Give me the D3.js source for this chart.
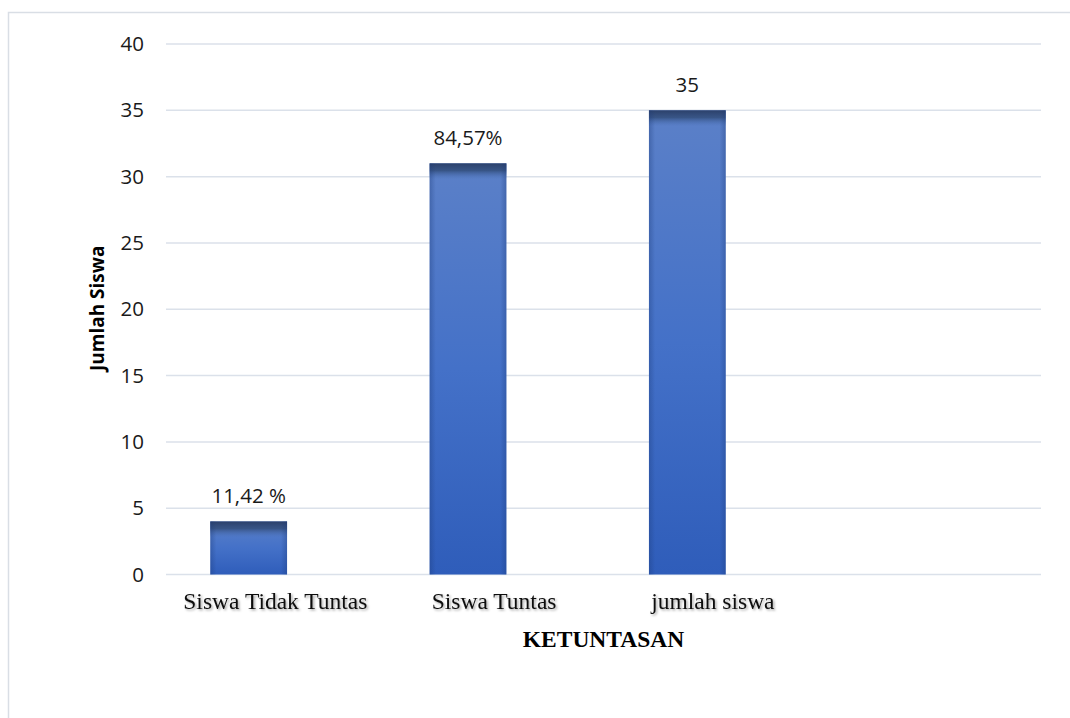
<!DOCTYPE html>
<html>
<head>
<meta charset="utf-8">
<script src="https://cdn.jsdelivr.net/npm/d3@7"></script>
<style>
  html, body { margin: 0; padding: 0; background: #fff; }
  svg { display: block; }
</style>
</head>
<body>
<div id="chart"></div>
<script>
// chart data
const categories = ["Siswa Tidak Tuntas", "Siswa Tuntas", "jumlah siswa"];
const values = [4, 31, 35];
const valueLabels = ["11,42 %", "84,57%", "35"];
const yTicks = [0, 5, 10, 15, 20, 25, 30, 35, 40];
const yTitle = "Jumlah Siswa";
const xTitle = "KETUNTASAN";

const width = 1070, height = 718;

const svg = d3.select("#chart").append("svg")
    .attr("width", width)
    .attr("height", height);

const defs = svg.append("defs");

// main fill of the bars
const g1 = defs.append("linearGradient")
    .attr("id", "barFill")
    .attr("x1", 0).attr("y1", 0).attr("x2", 0).attr("y2", 1);
g1.append("stop").attr("offset", "0%").attr("stop-color", "#5b80c8");
g1.append("stop").attr("offset", "50%").attr("stop-color", "#4471c8");
g1.append("stop").attr("offset", "100%").attr("stop-color", "#2f5dba");

// dark cap on top of each bar
const g2 = defs.append("linearGradient")
    .attr("id", "barCap")
    .attr("x1", 0).attr("y1", 0).attr("x2", 0).attr("y2", 1);
g2.append("stop").attr("offset", "0%").attr("stop-color", "#2c416b").attr("stop-opacity", 1);
g2.append("stop").attr("offset", "45%").attr("stop-color", "#34507f").attr("stop-opacity", 0.9);
g2.append("stop").attr("offset", "100%").attr("stop-color", "#4a6fb5").attr("stop-opacity", 0);

// side shading
const g3 = defs.append("linearGradient")
    .attr("id", "barSide")
    .attr("x1", 0).attr("y1", 0).attr("x2", 1).attr("y2", 0);
g3.append("stop").attr("offset", "0%").attr("stop-color", "#1c3a78").attr("stop-opacity", 0.35);
g3.append("stop").attr("offset", "8%").attr("stop-color", "#1c3a78").attr("stop-opacity", 0);
g3.append("stop").attr("offset", "92%").attr("stop-color", "#1c3a78").attr("stop-opacity", 0);
g3.append("stop").attr("offset", "100%").attr("stop-color", "#1c3a78").attr("stop-opacity", 0.35);

const shadow = defs.append("filter").attr("id", "txtShadow")
    .attr("x", "-10%").attr("y", "-20%").attr("width", "120%").attr("height", "150%");
shadow.append("feDropShadow")
    .attr("dx", 1.5).attr("dy", 1.5).attr("stdDeviation", 1)
    .attr("flood-color", "#000").attr("flood-opacity", 0.35);

// frame (only top and left visible, the rest is cut off)
svg.append("rect")
    .attr("x", 8.5).attr("y", 12.5)
    .attr("width", 1100).attr("height", 800)
    .attr("fill", "none")
    .attr("stroke", "#d9dee5")
    .attr("stroke-width", 1.5);

const plot = { left: 166, right: 1041, top: 44, bottom: 574.5 };

const y = d3.scaleLinear()
    .domain([0, 40])
    .range([plot.bottom, plot.top]);

// category slots for the labels (a fourth, empty slot on the right)
const xLab = d3.scaleBand()
    .domain(categories.concat([""]))
    .range([plot.left, plot.right]);

// bars sit a bit left of their labels
const xBar = d3.scaleBand()
    .domain(categories)
    .range([139, 797])
    .paddingInner(0.65)
    .paddingOuter(0.325);

// grid lines
svg.append("g")
    .selectAll("line")
    .data(yTicks)
    .join("line")
    .attr("x1", plot.left).attr("x2", plot.right)
    .attr("y1", d => y(d)).attr("y2", d => y(d))
    .attr("stroke", "#dbe1ea")
    .attr("stroke-width", 1.5);

// y axis labels
const yAxis = svg.append("g")
    .attr("transform", `translate(${plot.left - 22},0)`)
    .call(d3.axisLeft(y).tickValues(yTicks).tickSize(0).tickPadding(0));
yAxis.select(".domain").remove();
yAxis.selectAll("text")
    .attr("font-family", "'Open Sans', 'Noto Sans', sans-serif")
    .attr("font-size", 20.5)
    .attr("fill", "#1a1a1a");

// bars
const bars = svg.append("g")
    .selectAll("g")
    .data(values)
    .join("g");

bars.append("rect")
    .attr("x", (d, i) => xBar(categories[i]))
    .attr("y", d => y(d))
    .attr("width", xBar.bandwidth())
    .attr("height", d => y(0) - y(d))
    .attr("fill", "url(#barFill)");

bars.append("rect")
    .attr("x", (d, i) => xBar(categories[i]))
    .attr("y", d => y(d))
    .attr("width", xBar.bandwidth())
    .attr("height", d => Math.min(16, y(0) - y(d)))
    .attr("fill", "url(#barCap)");

bars.append("rect")
    .attr("x", (d, i) => xBar(categories[i]))
    .attr("y", d => y(d))
    .attr("width", xBar.bandwidth())
    .attr("height", d => y(0) - y(d))
    .attr("fill", "url(#barSide)");

// value labels
svg.append("g")
    .selectAll("text")
    .data(values)
    .join("text")
    .attr("x", (d, i) => xBar(categories[i]) + xBar.bandwidth() / 2)
    .attr("y", d => y(d) - 18.5)
    .attr("text-anchor", "middle")
    .attr("font-family", "'Open Sans', 'Noto Sans', sans-serif")
    .attr("font-size", 20.5)
    .attr("fill", "#1a1a1a")
    .text((d, i) => valueLabels[i]);

// category labels
svg.append("g")
    .selectAll("text")
    .data(categories)
    .join("text")
    .attr("x", d => xLab(d) + xLab.bandwidth() / 2)
    .attr("y", 609)
    .attr("text-anchor", "middle")
    .attr("font-family", "'Liberation Serif', 'Times New Roman', serif")
    .attr("font-size", 23.5)
    .attr("fill", "#111")
    .attr("filter", "url(#txtShadow)")
    .text(d => d);

// axis titles
svg.append("text")
    .attr("x", (plot.left + plot.right) / 2)
    .attr("y", 647)
    .attr("text-anchor", "middle")
    .attr("font-family", "'Liberation Serif', 'Times New Roman', serif")
    .attr("font-weight", "bold")
    .attr("font-size", 23.5)
    .attr("fill", "#000")
    .text(xTitle);

svg.append("text")
    .attr("transform", `translate(104,${(y(0) + y(40)) / 2 - 1}) rotate(-90)`)
    .attr("text-anchor", "middle")
    .attr("font-family", "'Open Sans', 'Noto Sans', sans-serif")
    .attr("font-weight", "bold")
    .attr("font-size", 19)
    .attr("fill", "#000")
    .text(yTitle);
</script>
</body>
</html>
